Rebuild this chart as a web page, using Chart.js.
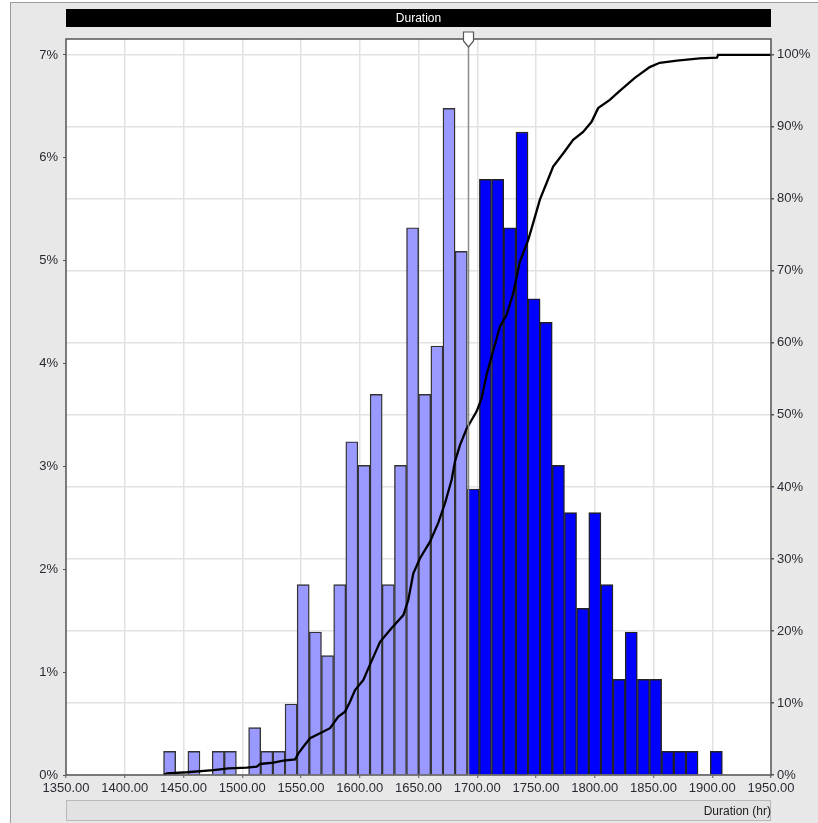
<!DOCTYPE html>
<html>
<head>
<meta charset="utf-8">
<title>Duration</title>
<script src="https://cdn.jsdelivr.net/npm/chart.js@4/dist/chart.umd.min.js"></script>
<style>
    html, body { margin: 0; padding: 0; background: #fff; }
    #wrap { width: 818px; height: 823px; }
</style>
</head>
<body>
<div id="wrap"><canvas id="graficaDuracion" width="818" height="823"></canvas></div>
<script>
// histogram bins: lower edge of each bin (hr) and share of trials (%)
const binLow = [
    1433.0, 1443.3, 1453.7, 1464.0, 1474.4, 1484.7, 1495.0, 1505.4, 1515.7, 1526.1,
    1536.4, 1546.7, 1557.1, 1567.4, 1577.8, 1588.1, 1598.4, 1608.8, 1619.1, 1629.5,
    1639.8, 1650.1, 1660.5, 1670.8, 1681.2, 1691.5, 1701.8, 1712.2, 1722.5, 1732.9,
    1743.2, 1753.5, 1763.9, 1774.2, 1784.6, 1794.9, 1805.2, 1815.6, 1825.9, 1836.3,
    1846.6, 1856.9, 1867.3, 1877.6, 1888.0, 1898.3
];
const binWidth = 10.34;
const freqPct = [
    0.23, 0, 0.23, 0, 0.23, 0.23, 0, 0.46, 0.23, 0.23,
    0.69, 1.85, 1.39, 1.16, 1.85, 3.24, 3.01, 3.70, 1.85, 3.01,
    5.32, 3.70, 4.17, 6.48, 5.09, 2.78, 5.79, 5.79, 5.32, 6.25,
    4.63, 4.40, 3.01, 2.55, 1.62, 2.55, 1.85, 0.93, 1.39, 0.93,
    0.93, 0.23, 0.23, 0.23, 0, 0.23
];

// certainty marker (hr)
const certaintyMark = 1692.5;

// cumulative curve
const cdfHours = [
    1433.0, 1435.9, 1452.9, 1475.5, 1488.3, 1503.9, 1512.4, 1515.2, 1526.5, 1535.0,
    1545.0, 1547.8, 1552.0, 1557.7, 1566.2, 1574.7, 1581.8, 1587.5, 1591.8, 1596.0,
    1603.1, 1607.3, 1617.3, 1627.2, 1637.1, 1641.3, 1645.6, 1651.3, 1659.8, 1666.8,
    1672.5, 1678.2, 1681.0, 1685.3, 1691.0, 1695.2, 1699.5, 1703.7, 1708.0, 1712.2,
    1719.3, 1725.0, 1730.6, 1736.3, 1743.4, 1749.1, 1753.3, 1759.0, 1764.6, 1773.1,
    1781.6, 1790.1, 1797.3, 1802.9, 1812.8, 1821.3, 1834.1, 1846.8, 1855.3, 1870.0,
    1889.3, 1904.0, 1905.0, 1950.0
];
const cdfPct = [
    0, 0.24, 0.38, 0.69, 0.93, 1.01, 1.15, 1.53, 1.71, 2.0,
    2.18, 3.01, 3.93, 5.1, 5.79, 6.5, 8.1, 8.8, 10.2, 11.8,
    13.2, 14.8, 18.5, 20.4, 22.2, 24.3, 28.0, 30.1, 32.4, 35.0,
    37.7, 41.0, 43.5, 45.8, 48.1, 49.3, 50.5, 52.3, 55.6, 58.1,
    62.3, 63.9, 66.9, 71.3, 74.3, 77.5, 79.9, 82.2, 84.5, 86.3,
    88.2, 89.3, 90.7, 92.6, 93.75, 95.0, 96.8, 98.3, 98.9, 99.2,
    99.5, 99.6, 100, 100
];

const xTicks = [1350, 1400, 1450, 1500, 1550, 1600, 1650, 1700, 1750, 1800, 1850, 1900, 1950];
const leftTicks = [0, 1, 2, 3, 4, 5, 6, 7];
const rightTicks = [0, 10, 20, 30, 40, 50, 60, 70, 80, 90, 100];

Chart.defaults.font.family = '"Liberation Sans", Arial, sans-serif';

const barrasClaras = binLow.map((b, i) => ({
    x: b + binWidth / 2,
    y: (b + binWidth <= certaintyMark && freqPct[i] > 0) ? freqPct[i] : null
}));
const barrasOscuras = binLow.map((b, i) => ({
    x: b + binWidth / 2,
    y: (b + binWidth > certaintyMark && freqPct[i] > 0) ? freqPct[i] : null
}));
const acumulada = cdfHours.map((h, i) => ({ x: h, y: cdfPct[i] }));

const fondo = {
    id: "fondo",
    beforeDraw(chart) {
        const { ctx, chartArea: a, width, height } = chart;
        ctx.save();
        ctx.fillStyle = "#fff";
        ctx.fillRect(0, 0, width, height);
        ctx.fillStyle = "#e8e8e8";
        ctx.fillRect(10, 2, width - 10, height - 2);
        ctx.strokeStyle = "#9a9a9a";
        ctx.lineWidth = 1;
        ctx.beginPath();
        ctx.moveTo(10.5, height);
        ctx.lineTo(10.5, 2.5);
        ctx.lineTo(width, 2.5);
        ctx.stroke();

        // black title bar
        ctx.fillStyle = "#000";
        ctx.fillRect(a.left, 9, a.right - a.left, 18);

        // box behind the x axis title
        ctx.fillStyle = "#e2e2e2";
        ctx.fillRect(a.left, 800, a.right - a.left, 21);
        ctx.strokeStyle = "#b8b8b8";
        ctx.strokeRect(a.left + 0.5, 800.5, a.right - a.left - 1, 20);

        // plot area
        ctx.fillStyle = "#fff";
        ctx.fillRect(a.left, a.top, a.right - a.left, a.bottom - a.top);
        ctx.restore();
    },
    afterDatasetsDraw(chart) {
        const { ctx, chartArea: a } = chart;
        const xm = Math.round(chart.scales.x.getPixelForValue(certaintyMark)) + 0.5;
        ctx.save();
        ctx.strokeStyle = "#555";
        ctx.lineWidth = 1.5;
        ctx.strokeRect(a.left, a.top, a.right - a.left, a.bottom - a.top);

        ctx.strokeStyle = "#8a8a8a";
        ctx.lineWidth = 1.5;
        ctx.beginPath();
        ctx.moveTo(xm, a.top);
        ctx.lineTo(xm, a.bottom);
        ctx.stroke();

        // marker handle
        ctx.beginPath();
        ctx.moveTo(xm - 5, a.top - 7);
        ctx.lineTo(xm + 5, a.top - 7);
        ctx.lineTo(xm + 5, a.top + 2);
        ctx.lineTo(xm, a.top + 8);
        ctx.lineTo(xm - 5, a.top + 2);
        ctx.closePath();
        ctx.fillStyle = "#fff";
        ctx.fill();
        ctx.strokeStyle = "#555";
        ctx.lineWidth = 1.2;
        ctx.stroke();
        ctx.restore();
    }
};

const ctx = document.getElementById("graficaDuracion").getContext("2d");

new Chart(ctx, {
    type: "bar",
    data: {
        datasets: [
            {
                type: "line",
                label: "Acumulada",
                data: acumulada,
                yAxisID: "y2",
                borderColor: "#000",
                borderWidth: 2.3,
                pointRadius: 0,
                tension: 0,
                fill: false,
                order: 1
            },
            {
                label: "Frecuencia",
                data: barrasClaras,
                yAxisID: "y",
                backgroundColor: "#9999ff",
                borderColor: "#333",
                borderWidth: 1.4,
                grouped: false,
                barPercentage: 1,
                categoryPercentage: 1,
                order: 2
            },
            {
                label: "Frecuencia (certeza)",
                data: barrasOscuras,
                yAxisID: "y",
                backgroundColor: "#0000ff",
                borderColor: "#222",
                borderWidth: 1.4,
                grouped: false,
                barPercentage: 1,
                categoryPercentage: 1,
                order: 2
            }
        ]
    },
    options: {
        responsive: false,
        animation: false,
        layout: { padding: 0 },
        plugins: {
            legend: { display: false },
            tooltip: { enabled: false },
            title: {
                display: true,
                text: "Duration",
                color: "#fff",
                fullSize: false,
                font: { size: 12, weight: "normal" },
                padding: { top: 11, bottom: 13.6 }
            }
        },
        scales: {
            x: {
                type: "linear",
                min: 1350,
                max: 1950,
                offset: false,
                afterBuildTicks: s => { s.ticks = xTicks.map(v => ({ value: v })); },
                afterFit: s => { s.height = 48; },
                ticks: {
                    autoSkip: false,
                    maxRotation: 0,
                    padding: 3,
                    color: "#2a2a33",
                    font: { size: 13 },
                    callback: v => Number(v).toFixed(2)
                },
                grid: {
                    offset: false,
                    color: "#e2e2e2",
                    lineWidth: 1.5,
                    tickLength: 3,
                    tickColor: "#555",
                    tickWidth: 1
                },
                border: { display: false },
                title: {
                    display: true,
                    text: "Duration (hr)",
                    align: "end",
                    color: "#222",
                    font: { size: 12 },
                    padding: { top: 0, bottom: 4 }
                }
            },
            y: {
                position: "left",
                min: 0,
                max: 7.155,
                afterBuildTicks: s => { s.ticks = leftTicks.map(v => ({ value: v })); },
                afterFit: s => { s.width = 66; },
                ticks: {
                    padding: 5,
                    color: "#2a2a33",
                    font: { size: 13 },
                    callback: v => v + "%"
                },
                grid: {
                    drawOnChartArea: false,
                    tickLength: 3,
                    tickColor: "#555"
                },
                border: { display: false }
            },
            y2: {
                position: "right",
                min: 0,
                max: 102.2,
                afterBuildTicks: s => { s.ticks = rightTicks.map(v => ({ value: v })); },
                afterFit: s => { s.width = 47; },
                ticks: {
                    padding: 3,
                    color: "#2a2a33",
                    font: { size: 13 },
                    callback: v => v + "%"
                },
                grid: {
                    color: "#e2e2e2",
                    lineWidth: 1.5,
                    tickLength: 3,
                    tickColor: "#555"
                },
                border: { display: false }
            }
        }
    },
    plugins: [fondo]
});
</script>
</body>
</html>
